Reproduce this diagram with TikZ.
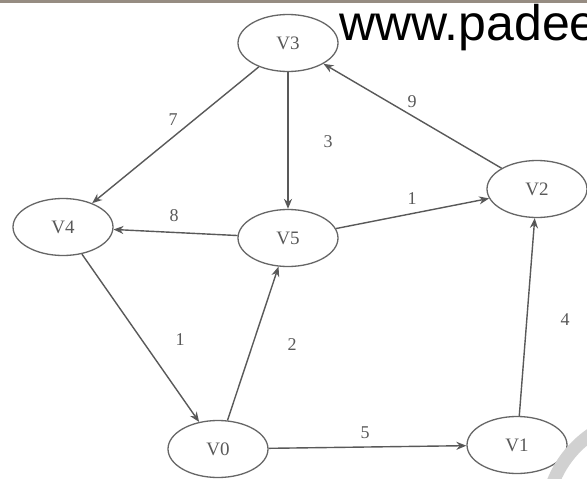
\documentclass[tikz,border=0pt]{standalone}
\usepackage{fontspec}
\setmainfont{Liberation Serif}
\newfontfamily\wmfont{Liberation Sans}
\usetikzlibrary{shapes.geometric,arrows.meta}
\definecolor{topbar}{RGB}{150,140,130}
\begin{document}
\begin{tikzpicture}[x=1pt,y=-1pt,
  vert/.style={ellipse,draw=black!60,line width=1.3pt,minimum width=100pt,minimum height=57pt,inner sep=0pt,font=\fontsize{19}{19}\selectfont,text=black!65},
  edgearrow/.style={draw=black!65,line width=1.4pt,-{Stealth[length=10pt,width=8pt,fill=black!85]}},
  wlabel/.style={font=\fontsize{18}{18}\selectfont,text=black!65,inner sep=0pt}]
\useasboundingbox (0,0) rectangle (587,479);
\clip (0,0) rectangle (587,479);
\fill[white] (0,0) rectangle (587,479);
\fill[topbar] (0,0) rectangle (587,2.5);
% vertices
\node[vert] (V3) at (288,43) {V3};
\node[vert] (V4) at (63,227) {V4};
\node[vert] (V5) at (288,238) {V5};
\node[vert] (V2) at (537,189) {V2};
\node[vert] (V0) at (218,449) {V0};
\node[vert] (V1) at (517,445) {V1};
% edges
\draw[edgearrow] (V3) -- (V4);
\draw[edgearrow] (V3) -- (V5);
\draw[edgearrow] (V2) -- (V3);
\draw[edgearrow] (V5) -- (V4);
\draw[edgearrow] (V5) -- (V2);
\draw[edgearrow] (V4) -- (V0);
\draw[edgearrow] (V0) -- (V5);
\draw[edgearrow] (V0) -- (V1);
\draw[edgearrow] (V1) -- (V2);
% weights
\node[wlabel] (w7) at (173,120) {7};
\node[wlabel] (w3) at (328,142) {3};
\node[wlabel] (w9) at (412,102) {9};
\node[wlabel] (w8) at (174,216) {8};
\node[wlabel] (w1a) at (412,199) {1};
\node[wlabel] (w1b) at (180,340) {1};
\node[wlabel] (w2) at (292,345) {2};
\node[wlabel] (w4) at (565,320) {4};
\node[wlabel] (w5) at (365,433) {5};
% watermark
\node[anchor=base west,inner sep=0pt,font=\wmfont\fontsize{50}{50}\selectfont,text=black] (wm) at (339,40) {www.padee};
\draw[black!18,line width=13pt] (650,520) circle (104);
\end{tikzpicture}
\end{document}
